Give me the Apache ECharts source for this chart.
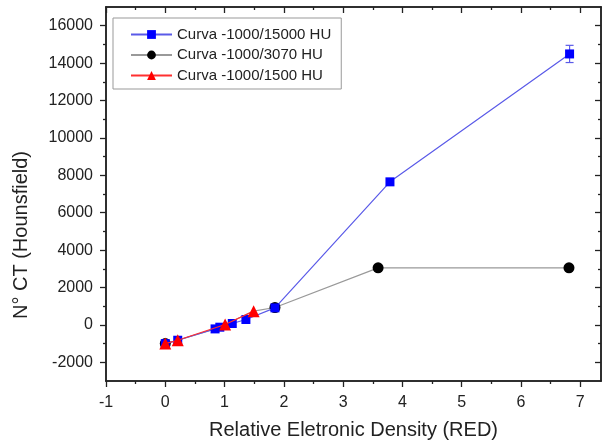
<!DOCTYPE html>
<html>
<head>
<meta charset="utf-8">
<script src="https://cdn.jsdelivr.net/npm/echarts@6/dist/echarts.min.js"></script>
<style>html,body{margin:0;padding:0;background:#fff;}#c{width:602px;height:443px;}</style>
</head>
<body>
<div id="c"></div>
<script>
// ---- data ----
var seriesNames = ['Curva -1000/15000 HU', 'Curva -1000/3070 HU', 'Curva -1000/1500 HU'];
var blueX = [0, 0.21, 0.84, 0.92, 1.13, 1.36, 1.85, 3.79, 6.82];
var blueY = [-1000, -820, -214, -123, 75, 290, 910, 7650, 14490];
var blackX = [0, 0.21, 0.84, 1.01, 1.49, 1.85, 3.59, 6.81];
var blackY = [-1000, -820, -214, 20, 735, 930, 3050, 3050];
var blackHidden = [false, true, true, true, true, false, false, false];
var redX = [0, 0.21, 1.01, 1.49];
var redY = [-1000, -820, 20, 735];
var errX = [6.82];
var errLow = [14030];
var errHigh = [14950];
var xMajor = [-1, 0, 1, 2, 3, 4, 5, 6, 7];
var xMinor = [-0.5, 0.5, 1.5, 2.5, 3.5, 4.5, 5.5, 6.5];
var yMajor = [-2000, 0, 2000, 4000, 6000, 8000, 10000, 12000, 14000, 16000];
var yMinor = [-1000, 1000, 3000, 5000, 7000, 9000, 11000, 13000, 15000];
var xTitle = 'Relative Eletronic Density (RED)';
var yTitle = 'N° CT (Hounsfield)';

function zip(a, b) { return a.map(function (v, i) { return [v, b[i]]; }); }

var FONT = 'Liberation Sans, Arial, sans-serif';
var AXC = '#222';
var xMin = -1, xMax = 7.35, yMin = -3000, yMax = 17000;
function plain(v) { return String(v); }

function xAx(pos, vals, len, inside, showLabel, extra) {
  var o = {
    type: 'value', position: pos, min: xMin, max: xMax,
    axisLine: { show: true, onZero: false, lineStyle: { color: AXC, width: 1.5 } },
    axisTick: { show: true, customValues: vals, length: len, inside: inside, lineStyle: { color: AXC, width: 1.3 } },
    axisLabel: showLabel ? { show: true, customValues: vals, formatter: plain, fontFamily: FONT, fontSize: 16, color: AXC, margin: 14 } : { show: false },
    splitLine: { show: false }
  };
  return Object.assign(o, extra || {});
}
function yAx(pos, vals, len, inside, showLabel, extra) {
  var o = {
    type: 'value', position: pos, min: yMin, max: yMax,
    axisLine: { show: true, onZero: false, lineStyle: { color: AXC, width: 1.5 } },
    axisTick: { show: true, customValues: vals, length: len, inside: inside, lineStyle: { color: AXC, width: 1.3 } },
    axisLabel: showLabel ? { show: true, customValues: vals, formatter: plain, fontFamily: FONT, fontSize: 16, color: AXC, margin: 13 } : { show: false },
    splitLine: { show: false }
  };
  return Object.assign(o, extra || {});
}

var chart = echarts.init(document.getElementById('c'), null, { renderer: 'canvas' });
chart.setOption({
  animation: false,
  backgroundColor: '#fff',
  grid: { left: 106, right: 1, top: 7, bottom: 62, containLabel: false, outerBoundsMode: 'none' },
  graphic: [{
    type: 'text', x: 21, y: 235, rotation: Math.PI / 2, silent: true,
    style: { text: yTitle, fontFamily: FONT, fontSize: 20, fill: AXC, align: 'center', verticalAlign: 'middle' }
  }],
  xAxis: [
    xAx('bottom', xMajor, 6, false, true, {
      name: xTitle, nameLocation: 'middle', nameGap: 39,
      nameTextStyle: { fontFamily: FONT, fontSize: 20, color: AXC }
    }),
    xAx('bottom', xMinor, 3, false, false),
    xAx('top', xMajor, 6, true, false),
    xAx('top', xMinor, 3, true, false)
  ],
  yAxis: [
    yAx('left', yMajor, 6, false, true),
    yAx('left', yMinor, 3, false, false),
    yAx('right', yMajor, 6, true, false),
    yAx('right', yMinor, 3, true, false)
  ],
  legend: {
    data: seriesNames,
    orient: 'vertical',
    left: 113, top: 18,
    padding: [9, 10, 6, 17],
    itemWidth: 41, itemHeight: 11, itemGap: 5.5,
    borderColor: '#999', borderWidth: 1, backgroundColor: '#fff',
    textStyle: { fontFamily: FONT, fontSize: 15, color: AXC }
  },
  series: [
    {
      name: seriesNames[1], type: 'line', z: 2,
      data: zip(blackX, blackY).map(function (p, i) {
        return blackHidden[i] ? { value: p, symbol: 'none' } : { value: p };
      }),
      symbol: 'circle', symbolSize: 11,
      itemStyle: { color: '#000' },
      lineStyle: { color: '#999', width: 1.2 }
    },
    {
      name: seriesNames[0], type: 'line', data: zip(blueX, blueY), z: 3,
      symbol: 'rect', symbolSize: 9,
      itemStyle: { color: '#0000ff' },
      lineStyle: { color: '#5a5ae8', width: 1.2 }
    },
    {
      name: 'err', type: 'custom', z: 3,
      data: errX.map(function (v, i) { return [v, errLow[i], errHigh[i]]; }),
      renderItem: function (params, api) {
        var lo = api.coord([api.value(0), api.value(1)]);
        var hi = api.coord([api.value(0), api.value(2)]);
        var w = 4;
        var st = { stroke: '#5a5ae8', lineWidth: 1.2 };
        return {
          type: 'group', children: [
            { type: 'line', shape: { x1: lo[0], y1: lo[1], x2: hi[0], y2: hi[1] }, style: st },
            { type: 'line', shape: { x1: lo[0] - w, y1: lo[1], x2: lo[0] + w, y2: lo[1] }, style: st },
            { type: 'line', shape: { x1: hi[0] - w, y1: hi[1], x2: hi[0] + w, y2: hi[1] }, style: st }
          ]
        };
      }
    },
    {
      name: seriesNames[2], type: 'line', data: zip(redX, redY), z: 4,
      symbol: 'triangle', symbolSize: 12,
      itemStyle: { color: '#ff0000' },
      lineStyle: { color: '#ff3030', width: 1.2 }
    }
  ]
});
</script>
</body>
</html>
